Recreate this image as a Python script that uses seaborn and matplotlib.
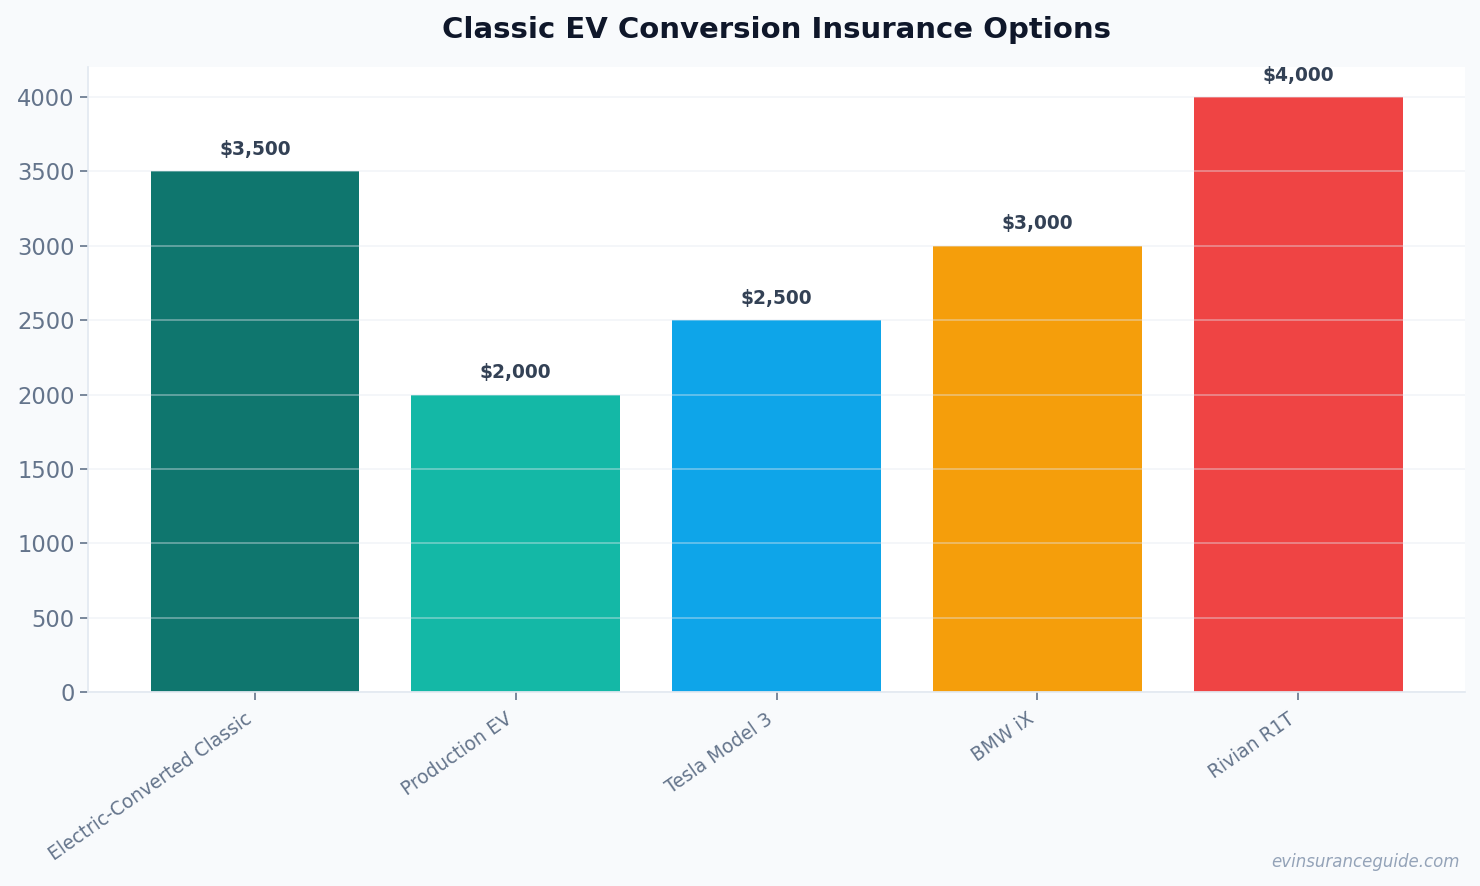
import matplotlib
matplotlib.use('Agg')
import matplotlib.pyplot as plt
import pandas as pd
import seaborn as sns

categories = ['Electric-Converted Classic', 'Production EV', 'Tesla Model 3', 'BMW iX', 'Rivian R1T']
premiums = [3500, 2000, 2500, 3000, 4000]
bar_colors = ['#0f766e', '#14b8a6', '#0ea5e9', '#f59e0b', '#ef4444']

BG = '#f8fafc'
TICK_GRAY = '#64748b'
SPINE = '#e2e8f0'

sns.set_theme(style='white')
plt.rcParams['font.family'] = ['DejaVu Sans']

df = pd.DataFrame({'vehicle': categories, 'premium': premiums})

fig, ax = plt.subplots(figsize=(14.8, 8.86), dpi=100)
fig.patch.set_facecolor(BG)
ax.set_facecolor('white')
fig.subplots_adjust(left=0.0595, right=0.99, top=0.924, bottom=0.219)

sns.barplot(data=df, x='vehicle', y='premium', hue='vehicle', palette=bar_colors,
            legend=False, width=0.8, saturation=1, linewidth=0, ax=ax)
for p in ax.patches:
    p.set_zorder(1)

for i, v in enumerate(premiums):
    ax.annotate(f'${v:,}', (i, v), xytext=(0, 9), textcoords='offset points',
                ha='center', va='bottom', fontsize=13.4, fontweight='bold', color='#334155')

ax.set_xlim(-0.64, 4.64)
ax.set_ylim(0, 4200)
ax.set_yticks(range(0, 4001, 500))

ax.yaxis.grid(True, color='#e2e8f0', alpha=0.45, linewidth=1.2, zorder=1.5)
ax.set_axisbelow('line')

for s in ['top', 'right']:
    ax.spines[s].set_visible(False)
for s in ['left', 'bottom']:
    ax.spines[s].set_color(SPINE)
    ax.spines[s].set_linewidth(1.2)

ax.tick_params(axis='y', labelsize=16.3, colors=TICK_GRAY, length=6, width=1.2, left=True)
ax.tick_params(axis='x', labelsize=13.4, colors=TICK_GRAY, length=6, width=1.2, bottom=True, pad=6.5)
plt.setp(ax.get_xticklabels(), rotation=35, ha='right')

ax.set_xlabel('')
ax.set_ylabel('')
ax.set_title('Classic EV Conversion Insurance Options', fontsize=21, fontweight='bold',
             color='#0f172a', pad=21)

fig.text(0.986, 0.027, 'evinsuranceguide.com', ha='right', va='center', fontsize=12,
         style='italic', color='#94a3b8')

fig.savefig('out.png', dpi=100, facecolor=BG)
